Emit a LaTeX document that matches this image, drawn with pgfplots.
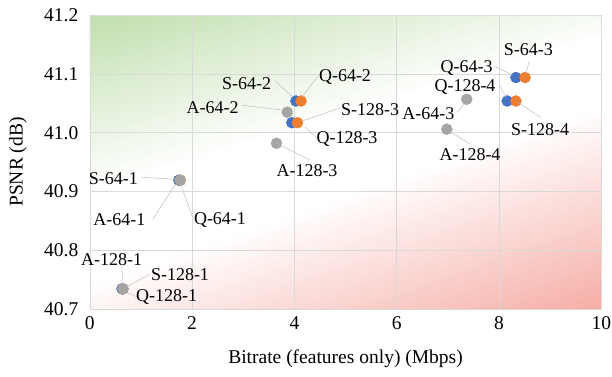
\documentclass[border=0pt]{standalone}
\usepackage{pgfplots}
\pgfplotsset{compat=1.18}
\usepackage{fontspec}
\setmainfont{Liberation Serif}
\usetikzlibrary{calc}
\pgfdeclarelayer{background}
\pgfsetlayers{background,main}
\definecolor{cblue}{HTML}{4472C4}
\definecolor{corange}{HTML}{ED7D31}
\definecolor{cgray}{HTML}{A5A5A5}
\definecolor{cgreen}{RGB}{172,212,146}
\definecolor{cred}{RGB}{242,146,136}
\definecolor{cgrid}{HTML}{D9D9D9}
\definecolor{cleader}{HTML}{BFBFBF}
\newcommand{\lbl}[7]{%
  \draw[cleader, line width=0.5pt] (#3,#4) -- (#5,#6);
  \node[inner sep=0pt, anchor=center, font=\fontsize{18}{20}\selectfont] at (#1,#2) {#7};
}
\begin{document}
\begin{tikzpicture}
\begin{axis}[
  name=ax,
  scale only axis,
  width=511.5pt, height=293.5pt,
  xmin=0, xmax=10, ymin=40.7, ymax=41.2,
  xtick={0,2,4,6,8,10},
  ytick={40.7,40.8,40.9,41.0,41.1,41.2},
  yticklabel style={/pgf/number format/fixed, /pgf/number format/precision=1, /pgf/number format/fixed zerofill},
  /pgf/number format/assume math mode=true,
  tick label style={font=\fontsize{19.5}{22}\selectfont},
  label style={font=\fontsize{19.5}{22}\selectfont},
  xticklabel shift=4pt,
  yticklabel shift=8pt,
  grid=major,
  grid style={color=cgrid, line width=0.6pt},
  axis line style={draw=cgrid, line width=0.6pt},
  tick style={draw=none},
  xlabel={Bitrate (features only) (Mbps)},
  ylabel={PSNR (dB)},
  xlabel style={at={(axis description cs:0.5,-0.1687)}, anchor=center},
  ylabel style={at={(axis description cs:-0.1404,0.5)}, anchor=center},
]
\addplot[only marks, mark=*, mark size=5.5pt, color=cblue] coordinates {
  (4.03,41.054) (3.95,41.017) (1.74,40.919) (0.63,40.734) (8.33,41.094) (8.16,41.054)
};
\addplot[only marks, mark=*, mark size=5.5pt, color=corange] coordinates {
  (4.13,41.054) (4.06,41.017) (1.77,40.919) (0.65,40.734) (8.51,41.094) (8.33,41.054)
};
\addplot[only marks, mark=*, mark size=5.5pt, color=cgray] coordinates {
  (3.86,41.035) (3.65,40.982) (1.77,40.919) (0.65,40.734) (7.37,41.057) (6.98,41.006)
};
\end{axis}
% background gradients
\begin{pgfonlayer}{background}
\begin{scope}
  \clip (ax.south west) rectangle (ax.north east);
  \begin{scope}[transform canvas={shift={(ax.north west)}, rotate=16.8}]
    \shade[top color=cgreen, bottom color=white] (-300pt,-169.5pt) rectangle (900pt,56.5pt);
  \end{scope}
  \begin{scope}[transform canvas={shift={(ax.south east)}, rotate=19.3}]
    \shade[top color=white, bottom color=cred] (-900pt,-64pt) rectangle (300pt,192pt);
  \end{scope}
\end{scope}
\end{pgfonlayer}
% data labels with leader lines (pixel frame)
\begin{scope}[shift={($(ax.north west)+(-89.8pt,15.3pt)$)}, x=1pt, y=-1pt]
  \lbl{246.7}{83.3}{275}{81}{293}{97}{S-64-2}
  \lbl{345}{77}{318}{76}{302}{97}{Q-64-2}
  \lbl{212.7}{107.3}{241.7}{105.3}{282}{110}{A-64-2}
  \lbl{370}{110}{340}{108}{302}{121}{S-128-3}
  \lbl{347}{139}{316.7}{138}{305}{126.7}{Q-128-3}
  \lbl{307}{171}{310}{160}{276.7}{143.3}{A-128-3}
  \lbl{113.3}{178.3}{141.7}{177.3}{175}{179.3}{S-64-1}
  \lbl{119.3}{220}{152.7}{219.3}{175}{185}{A-64-1}
  \lbl{220}{220}{193.3}{219.3}{181}{185}{Q-64-1}
  \lbl{111.7}{260}{121.7}{266.7}{123.3}{285}{A-128-1}
  \lbl{180}{275}{150}{274.3}{126.7}{286.7}{S-128-1}
  \lbl{166.7}{296.7}{136.7}{296.7}{126.7}{292.7}{Q-128-1}
  \lbl{528.3}{50}{529}{61.7}{526}{74}{S-64-3}
  \lbl{466.7}{68.3}{495}{66.7}{512.7}{75}{Q-64-3}
  \lbl{465}{87.3}{500}{86}{505.7}{97.3}{Q-128-4}
  \lbl{428.3}{113.3}{456.7}{112.7}{465}{103.3}{A-64-3}
  \lbl{470}{155}{450}{131.7}{470}{144}{A-128-4}
  \lbl{540}{129.3}{518.3}{102.7}{540.7}{117.3}{S-128-4}
\end{scope}
\pgfresetboundingbox
\path[use as bounding box] ($(ax.north west)+(-89.8pt,15.3pt)$) rectangle ++(612pt,-376pt);
\end{tikzpicture}
\end{document}
